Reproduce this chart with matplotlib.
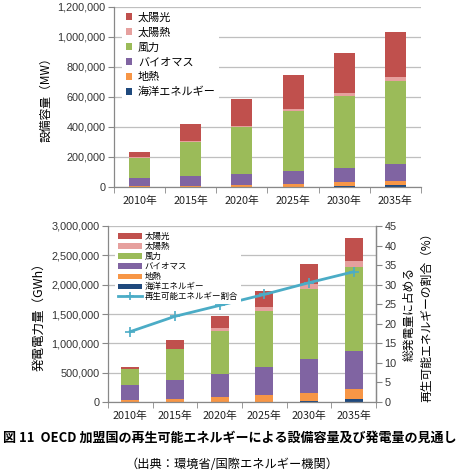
import matplotlib
matplotlib.use("Agg")
import matplotlib.pyplot as plt
from matplotlib.patches import Patch
from matplotlib.lines import Line2D
import numpy as np

plt.rcParams['font.family'] = ['Noto Sans CJK JP', 'DejaVu Sans']

years = ["2010年", "2015年", "2020年", "2025年", "2030年", "2035年"]
series_names = ["太陽光", "太陽熱", "風力", "バイオマス", "地熱", "海洋エネルギー"]
colors = ["#C0504D", "#E6A09E", "#9BBB59", "#8064A2", "#F79646", "#1F497D"]

# Installed capacity (MW)
cap_ocean   = [500, 1000, 1500, 2500, 9000, 16000]
cap_geo     = [5000, 7000, 9000, 18000, 22000, 26000]
cap_biomass = [52000, 63000, 73000, 84000, 93000, 109000]
cap_wind    = [138000, 227000, 316000, 403000, 480000, 553000]
cap_sthermal= [2000, 9000, 9000, 13000, 23000, 29000]
cap_solar   = [33500, 115000, 180000, 227000, 264000, 300000]

# Generation (GWh)
gen_ocean   = [1000, 1500, 2000, 3000, 23000, 45000]
gen_geo     = [39000, 55000, 77000, 110000, 136000, 170000]
gen_biomass = [255000, 323000, 403000, 482000, 573000, 658000]
gen_wind    = [272000, 522000, 732000, 959000, 1196000, 1424000]
gen_sthermal= [2000, 8000, 39000, 68000, 80000, 107000]
gen_solar   = [32000, 151000, 216000, 272000, 340000, 397000]

share = [18.0, 21.9, 24.7, 27.5, 30.5, 33.3]

W, H = 460, 474
fig = plt.figure(figsize=(W/100, H/100), dpi=100)

def px_axes(left, top, right, bottom):
    return fig.add_axes([left/W, 1-bottom/H, (right-left)/W, (bottom-top)/H])

grid_c = "#BFBFBF"
tick_font = ['Liberation Sans', 'DejaVu Sans']

def style_axes(ax, ymax, step):
    x = np.arange(len(years))
    ax.set_xlim(-0.5, len(years)-0.5)
    ax.set_ylim(0, ymax)
    ax.set_yticks(np.arange(0, ymax+1, step))
    ax.set_yticklabels([f"{int(v):,}" for v in np.arange(0, ymax+1, step)],
                       family=tick_font, fontsize=7.8, color="#333333")
    ax.set_xticks(x)
    ax.set_xticklabels(years, fontsize=7.8, color="#222222")
    ax.set_xticks(np.arange(-0.5, len(years), 1), minor=True)
    ax.tick_params(axis='x', which='major', length=0, pad=6)
    ax.tick_params(axis='x', which='minor', length=4, color="#888888")
    ax.tick_params(axis='y', length=4, color="#888888", pad=2)
    ax.grid(axis='y', color=grid_c, linewidth=0.9)
    ax.set_axisbelow(True)
    for s in ['top', 'right']:
        ax.spines[s].set_visible(False)
    for s in ['left', 'bottom']:
        ax.spines[s].set_color("#888888")
        ax.spines[s].set_linewidth(0.9)

# ---------- Top chart ----------
ax1 = px_axes(114, 7, 421, 187)
style_axes(ax1, 1200000, 200000)
x = np.arange(len(years))
stack = [cap_ocean, cap_geo, cap_biomass, cap_wind, cap_sthermal, cap_solar]
cols_bottom_up = [colors[5], colors[4], colors[3], colors[2], colors[1], colors[0]]
bottom = np.zeros(len(years))
for vals, c in zip(stack, cols_bottom_up):
    ax1.bar(x, vals, width=0.41, bottom=bottom, color=c, edgecolor='none')
    bottom += np.array(vals)
ax1.set_ylabel("設備容量（MW）", fontsize=8.5, labelpad=4)
handles1 = [Patch(facecolor=c, edgecolor='none') for c in colors]
leg1 = ax1.legend(handles1, series_names, loc='upper left', bbox_to_anchor=(0.02, 1.0),
                  fontsize=8, frameon=True, handlelength=0.6, handleheight=0.6,
                  handletextpad=0.5, labelspacing=0.42, borderpad=0.3,
                  borderaxespad=0.2)
leg1.get_frame().set_edgecolor('none')
leg1.get_frame().set_facecolor('white')
leg1.get_frame().set_alpha(1)

# ---------- Bottom chart ----------
ax2 = px_axes(108, 226, 376, 402)
style_axes(ax2, 3000000, 500000)
stack2 = [gen_ocean, gen_geo, gen_biomass, gen_wind, gen_sthermal, gen_solar]
bottom = np.zeros(len(years))
for vals, c in zip(stack2, cols_bottom_up):
    ax2.bar(x, vals, width=0.40, bottom=bottom, color=c, edgecolor='none')
    bottom += np.array(vals)
ax2.set_ylabel("発電電力量（GWh）", fontsize=9, labelpad=4)
ax2.spines['right'].set_visible(True)
ax2.spines['right'].set_color("#888888")
ax2.spines['right'].set_linewidth(0.9)

ax3 = ax2.twinx()
ax3.set_ylim(0, 45)
ax3.set_yticks(np.arange(0, 46, 5))
ax3.set_yticklabels([str(v) for v in range(0, 46, 5)], family=tick_font, fontsize=7.8, color="#333333")
ax3.tick_params(axis='y', length=4, color="#888888", pad=2)
for s in ['top', 'left', 'bottom']:
    ax3.spines[s].set_visible(False)
ax3.spines['right'].set_color("#888888")
ax3.spines['right'].set_linewidth(0.9)
line_c = "#4BACC6"
ax3.plot(x, share, color=line_c, linewidth=2, marker='+', markersize=7,
         markeredgewidth=1.2)
ax3.set_ylabel("総発電量に占める\n再生可能エネルギーの割合（%）", fontsize=8.5,
               rotation=90, labelpad=4, linespacing=1.5)

handles2 = [Patch(facecolor=c, edgecolor='none') for c in colors]
handles2.append(Line2D([0], [0], color=line_c, linewidth=2, marker='+',
                       markersize=6, markeredgewidth=1.2))
labels2 = series_names + ["再生可能エネルギー割合"]
leg2 = ax3.legend(handles2, labels2, loc='upper left', bbox_to_anchor=(0.02, 0.99),
                  fontsize=6.1, frameon=True, handlelength=2.9, handleheight=0.55,
                  handletextpad=0.3, labelspacing=0.12, borderpad=0.3,
                  borderaxespad=0.2)
leg2.get_frame().set_edgecolor('none')
leg2.get_frame().set_facecolor('white')
leg2.get_frame().set_alpha(1)

# ---------- Captions ----------
fig.text(230/W, 1-438/H, "図 11  OECD 加盟国の再生可能エネルギーによる設備容量及び発電量の見通し",
         ha='center', va='center', fontsize=9.4, fontweight='bold')
fig.text(232/W, 1-465/H, "（出典：環境省/国際エネルギー機関）",
         ha='center', va='center', fontsize=8.8)

fig.savefig("out.png", dpi=100)
